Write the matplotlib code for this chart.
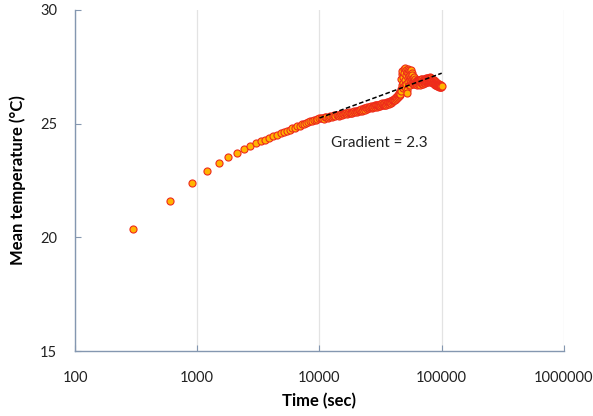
import matplotlib
matplotlib.use("Agg")
import matplotlib.pyplot as plt
from matplotlib.ticker import FixedLocator, FixedFormatter, NullLocator

# logged every 300 s
time_s = [
    300, 600, 900, 1200, 1500, 1800, 2100, 2400, 2700, 3000,
    3300, 3600, 3900, 4200, 4500, 4800, 5100, 5400, 5700, 6000,
    6300, 6600, 6900, 7200, 7500, 7800, 8100, 8400, 8700, 9000,
    9300, 9600, 9900, 10200, 10500, 10800, 11100, 11400, 11700, 12000,
    12300, 12600, 12900, 13200, 13500, 13800, 14100, 14400, 14700, 15000,
    15300, 15600, 15900, 16200, 16500, 16800, 17100, 17400, 17700, 18000,
    18300, 18600, 18900, 19200, 19500, 19800, 20100, 20400, 20700, 21000,
    21300, 21600, 21900, 22200, 22500, 22800, 23100, 23400, 23700, 24000,
    24300, 24600, 24900, 25200, 25500, 25800, 26100, 26400, 26700, 27000,
    27300, 27600, 27900, 28200, 28500, 28800, 29100, 29400, 29700, 30000,
    30300, 30600, 30900, 31200, 31500, 31800, 32100, 32400, 32700, 33000,
    33300, 33600, 33900, 34200, 34500, 34800, 35100, 35400, 35700, 36000,
    36300, 36600, 36900, 37200, 37500, 37800, 38100, 38400, 38700, 39000,
    39300, 39600, 39900, 40200, 40500, 40800, 41100, 41400, 41700, 42000,
    42300, 42600, 42900, 43200, 43500, 43800, 44100, 44400, 44700, 45000,
    45300, 45600, 45900, 46200, 46500, 46800, 47100, 47400, 47700, 48000,
    48300, 48600, 48900, 49200, 49500, 49800, 50100, 50400, 50700, 51000,
    51300, 51600, 51900, 52200, 52500, 52800, 53100, 53400, 53700, 54000,
    54300, 54600, 54900, 55200, 55500, 55800, 56100, 56400, 56700, 57000,
    57300, 57600, 57900, 58200, 58500, 58800, 59100, 59400, 59700, 60000,
    60300, 60600, 60900, 61200, 61500, 61800, 62100, 62400, 62700, 63000,
    63300, 63600, 63900, 64200, 64500, 64800, 65100, 65400, 65700, 66000,
    66300, 66600, 66900, 67200, 67500, 67800, 68100, 68400, 68700, 69000,
    69300, 69600, 69900, 70200, 70500, 70800, 71100, 71400, 71700, 72000,
    72300, 72600, 72900, 73200, 73500, 73800, 74100, 74400, 74700, 75000,
    75300, 75600, 75900, 76200, 76500, 76800, 77100, 77400, 77700, 78000,
    78300, 78600, 78900, 79200, 79500, 79800, 80100, 80400, 80700, 81000,
    81300, 81600, 81900, 82200, 82500, 82800, 83100, 83400, 83700, 84000,
    84300, 84600, 84900, 85200, 85500, 85800, 86100, 86400, 86700, 87000,
    87300, 87600, 87900, 88200, 88500, 88800, 89100, 89400, 89700, 90000,
    90300, 90600, 90900, 91200, 91500, 91800, 92100, 92400, 92700, 93000,
    93300, 93600, 93900, 94200, 94500, 94800, 95100, 95400, 95700, 96000,
    96300, 96600, 96900, 97200, 97500, 97800, 98100, 98400, 98700, 99000,
    99300, 99600, 99900,
]

temp_c = [
    20.36, 21.60, 22.39, 22.91, 23.26, 23.55, 23.72, 23.89, 24.03, 24.13,
    24.22, 24.30, 24.37, 24.45, 24.51, 24.58, 24.63, 24.69, 24.73, 24.79,
    24.83, 24.88, 24.92, 24.97, 25.00, 25.04, 25.07, 25.11, 25.13, 25.16,
    25.18, 25.21, 25.23,
    25.25, 25.27, 25.22, 25.28, 25.31, 25.26, 25.31, 25.34, 25.29, 25.34,
    25.37, 25.32, 25.37, 25.40, 25.34, 25.40, 25.43, 25.37, 25.43, 25.41,
    25.46, 25.48, 25.42, 25.48, 25.51, 25.45, 25.49, 25.53, 25.47, 25.53,
    25.56, 25.50, 25.54,
    25.58, 25.52, 25.58, 25.61, 25.55, 25.61, 25.64, 25.58, 25.64, 25.62,
    25.67, 25.69, 25.62, 25.69, 25.72, 25.65, 25.70, 25.74, 25.68, 25.74,
    25.72, 25.77, 25.70, 25.75, 25.79, 25.72, 25.77, 25.81, 25.74, 25.79,
    25.82, 25.75, 25.80, 25.78,
    25.83, 25.76, 25.83, 25.86, 25.78, 25.84, 25.80, 25.87, 25.89, 25.81,
    25.87, 25.83, 25.90, 25.84, 25.92, 25.86, 25.82, 25.90, 25.94, 25.87,
    25.92, 25.96, 25.88, 25.94, 25.98, 25.91, 25.96, 26.00, 25.93, 26.02,
    25.96, 26.04, 26.00,
    26.04, 26.07, 26.02, 26.09, 26.12, 26.06, 26.14, 26.10, 26.17, 26.20,
    26.13, 26.22, 26.18, 26.26, 26.21, 26.29, 26.33, 26.25, 26.38, 26.31,
    26.52, 26.95, 26.44, 27.18, 26.70, 27.32, 26.58, 27.05, 26.80, 27.40,
    26.66, 27.22, 26.90, 27.44, 26.62, 27.12, 27.36, 26.75, 27.28, 26.48,
    26.35, 27.02, 27.42, 26.85, 27.25, 26.68, 27.38, 27.10, 26.92, 27.30,
    26.72, 27.15, 27.34, 26.88, 27.06, 27.22, 26.78, 26.98, 27.12, 26.82,
    27.02, 26.76, 26.95, 26.84, 27.05, 26.74, 26.90, 26.80, 26.96, 26.78,
    26.82, 26.74, 26.88, 26.79, 26.92, 26.76, 26.85, 26.71, 26.90, 26.80,
    26.86, 26.73, 26.94, 26.81, 26.77, 26.89, 26.84, 26.70, 26.91, 26.83,
    26.78, 26.95, 26.82, 26.87, 26.74, 26.92, 26.85, 26.80, 26.97, 26.83,
    26.88, 26.76, 26.93, 26.86, 26.81, 26.98, 26.84, 26.90, 26.79, 26.95,
    26.87, 26.92, 26.83, 27.00, 26.89, 26.85, 26.96, 26.91, 26.82, 26.99,
    26.90, 26.86, 27.02, 26.93, 26.88, 26.97, 26.84, 27.01, 26.92, 26.89,
    26.98, 26.87, 27.04, 26.94, 26.90, 26.99, 26.85, 27.03, 26.93, 26.96,
    26.88, 27.00, 26.91, 26.86, 26.97, 26.82, 26.94, 26.89, 26.80, 26.92,
    26.85, 26.78, 26.90, 26.83, 26.76, 26.88, 26.81, 26.74, 26.86, 26.79,
    26.72, 26.84, 26.77, 26.70, 26.82, 26.75, 26.68, 26.80, 26.73, 26.78,
    26.71, 26.66, 26.76, 26.69, 26.74, 26.64, 26.72, 26.67, 26.75, 26.70,
    26.65, 26.73, 26.68, 26.62, 26.71, 26.66, 26.69, 26.63, 26.70, 26.67,
    26.64, 26.68, 26.62, 26.66, 26.70, 26.63, 26.67, 26.65, 26.64, 26.66,
]

# dashed fit line end points
fit_time = [10000, 100000]
fit_temp = [25.25, 27.22]

x_ticks = [100, 1000, 10000, 100000, 1000000]
x_labels = ["100", "1000", "10000", "100000", "1000000"]
y_ticks = [15, 20, 25, 30]
y_labels = ["15", "20", "25", "30"]

plt.rcParams["font.family"] = ["Lato", "DejaVu Sans"]
axis_col = "#8497B0"

fig = plt.figure(figsize=(5.93, 4.16), dpi=100)
ax = fig.add_axes([0.1265, 0.156, 0.8245, 0.82])

ax.set_xscale("log")
ax.set_xlim(100, 1000000)
ax.set_ylim(15, 30)

ax.xaxis.set_major_locator(FixedLocator(x_ticks))
ax.xaxis.set_major_formatter(FixedFormatter(x_labels))
ax.xaxis.set_minor_locator(NullLocator())
ax.yaxis.set_major_locator(FixedLocator(y_ticks))
ax.yaxis.set_major_formatter(FixedFormatter(y_labels))

ax.grid(axis="x", color="#E3E3E3", linewidth=0.9)
ax.set_axisbelow(True)

for side in ["top", "right"]:
    ax.spines[side].set_visible(False)
for side in ["left", "bottom"]:
    ax.spines[side].set_color(axis_col)
    ax.spines[side].set_linewidth(1.0)

ax.tick_params(axis="both", direction="in", length=4, color=axis_col,
               labelsize=10.5, labelcolor="#222222")
ax.tick_params(axis="x", pad=14)
ax.tick_params(axis="y", pad=13)

ax.scatter(time_s, temp_c, s=26, facecolor="#FFB400", edgecolor="#EE2A1C",
           linewidth=0.8, zorder=3)
ax.plot(fit_time, fit_temp, color="black", linestyle=(0, (3, 1.6)),
        linewidth=1.1, zorder=4)

ax.text(12500, 24.15, "Gradient = 2.3", fontsize=11, va="center", ha="left",
        color="#222222")

ax.set_xlabel("Time (sec)", fontsize=12, fontweight="bold", labelpad=6)
ax.set_ylabel("Mean temperature (°C)", fontsize=12, fontweight="bold",
              labelpad=10)

fig.savefig("out.png", dpi=100)
